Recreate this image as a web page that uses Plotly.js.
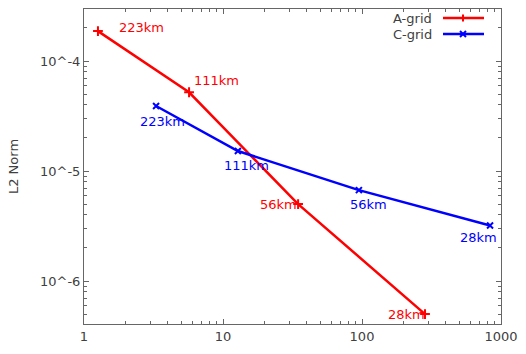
<!DOCTYPE html>
<html>
<head>
<meta charset="utf-8">
<script src="https://cdn.plot.ly/plotly-3.0.1.min.js"></script>
<style>html,body{margin:0;padding:0;background:#fff;}#chart{width:526px;height:354px;}</style>
</head>
<body>
<div id="chart"></div>
<script>
// Data
var seriesNames = ['A-grid', 'C-grid'];
var resolutionLabels = ['223km', '111km', '56km', '28km'];
var aGridX = [1.26, 5.7, 34.7, 284];
var aGridY = [1.87e-4, 5.2e-5, 5.0e-6, 5.0e-7];
var cGridX = [3.3, 12.8, 95, 834];
var cGridY = [3.9e-5, 1.52e-5, 6.7e-6, 3.2e-6];
var yTickVals = [1e-6, 1e-5, 1e-4];
var yTickText = ['10^-6', '10^-5', '10^-4'];
var xTickVals = [1, 10, 100, 1000];
var xTickText = ['1', '10', '100', '1000'];

var RED = '#ff0000', BLUE = '#0000ff', TXT = '#404040', AX = '#666666';
var FONT = 'DejaVu Sans, sans-serif';

var traces = [
  // invisible copy bound to the mirror axes so that they are drawn (top/right ticks)
  {x: aGridX, y: aGridY, xaxis: 'x2', yaxis: 'y2', mode: 'lines', opacity: 0,
   line: {width: 0}, showlegend: false, hoverinfo: 'skip'},
  {x: aGridX, y: aGridY, mode: 'lines+markers', name: seriesNames[0],
   line: {color: RED, width: 2.5},
   marker: {symbol: 'cross-thin-open', size: 7, line: {color: RED, width: 2}}},
  {x: cGridX, y: cGridY, mode: 'lines+markers', name: seriesNames[1],
   line: {color: BLUE, width: 2.5},
   marker: {symbol: 'x-thin-open', size: 6, line: {color: BLUE, width: 2}}}
];

// label offsets (pixels) per point
var aOff = [
  {xa: 'left', dx: 19, dy: 4},
  {xa: 'left', dx: 3, dy: 12},
  {xa: 'right', dx: 1, dy: 0},
  {xa: 'right', dx: 2, dy: 0}
];
var cOff = [
  {xa: 'left', dx: -18, dy: -15},
  {xa: 'left', dx: -16, dy: -14},
  {xa: 'left', dx: -11, dy: -14},
  {xa: 'left', dx: -32, dy: -12}
];

var annotations = [];
function addLabels(xs, ys, offs, color) {
  for (var i = 0; i < xs.length; i++) {
    annotations.push({
      x: Math.log10(xs[i]), y: Math.log10(ys[i]), xref: 'x', yref: 'y',
      text: resolutionLabels[i], showarrow: false,
      xanchor: offs[i].xa, yanchor: 'middle',
      xshift: offs[i].dx, yshift: offs[i].dy,
      font: {family: FONT, size: 13, color: color}
    });
  }
}
addLabels(aGridX, aGridY, aOff, RED);
addLabels(cGridX, cGridY, cOff, BLUE);

// custom legend (text left of sample, as in reference)
function px(x) { return (x - 84) / 417; }
function py(y) { return (324 - y) / 315; }
var legendRows = [{y: 18, color: RED}, {y: 34, color: BLUE}];
var shapes = [];
legendRows.forEach(function (r, i) {
  annotations.push({
    x: px(434), y: py(r.y), xref: 'paper', yref: 'paper', text: seriesNames[i],
    showarrow: false, xanchor: 'right', yanchor: 'middle',
    font: {family: FONT, size: 13, color: TXT}
  });
  shapes.push({type: 'line', xref: 'paper', yref: 'paper',
    x0: px(443), x1: px(484), y0: py(r.y), y1: py(r.y),
    line: {color: r.color, width: 2.5}});
});
// legend marker glyphs
shapes.push({type: 'line', xref: 'paper', yref: 'paper', x0: px(463), x1: px(463),
  y0: py(14.5), y1: py(21.5), line: {color: RED, width: 2}});
shapes.push({type: 'line', xref: 'paper', yref: 'paper', x0: px(460), x1: px(466),
  y0: py(31), y1: py(37), line: {color: BLUE, width: 2}});
shapes.push({type: 'line', xref: 'paper', yref: 'paper', x0: px(460), x1: px(466),
  y0: py(37), y1: py(31), line: {color: BLUE, width: 2}});

var X_RANGE = [0, 3], Y_RANGE = [-6.391, -3.527];
function axisCommon() {
  return {
    showgrid: false, zeroline: false, showline: true, linecolor: AX, linewidth: 1,
    ticks: 'inside', ticklen: 5, tickcolor: AX, tickwidth: 1,
    tickfont: {family: FONT, size: 13, color: TXT},
    minor: {tickmode: 'linear', ticks: 'inside', ticklen: 3, tickcolor: AX, tickwidth: 1, dtick: 'D1', showgrid: false}
  };
}

var layout = {
  width: 526, height: 354,
  margin: {l: 84, r: 25, t: 9, b: 30},
  paper_bgcolor: '#ffffff', plot_bgcolor: '#ffffff',
  showlegend: false,
  xaxis: Object.assign(axisCommon(), {
    type: 'log', range: X_RANGE, tickmode: 'array', tickvals: xTickVals, ticktext: xTickText
  }),
  yaxis: Object.assign(axisCommon(), {
    type: 'log', range: Y_RANGE, tickmode: 'array', tickvals: yTickVals, ticktext: yTickText,
    title: {text: 'L2 Norm', font: {family: FONT, size: 13, color: TXT}, standoff: 18}
  }),
  xaxis2: Object.assign(axisCommon(), {
    type: 'log', range: X_RANGE, tickmode: 'array', tickvals: xTickVals,
    overlaying: 'x', side: 'top', anchor: 'y2', showticklabels: false
  }),
  yaxis2: Object.assign(axisCommon(), {
    type: 'log', range: Y_RANGE, tickmode: 'array', tickvals: yTickVals,
    overlaying: 'y', side: 'right', anchor: 'x2', showticklabels: false
  }),
  annotations: annotations,
  shapes: shapes
};

Plotly.newPlot('chart', traces, layout, {displayModeBar: false, staticPlot: true});
</script>
</body>
</html>
